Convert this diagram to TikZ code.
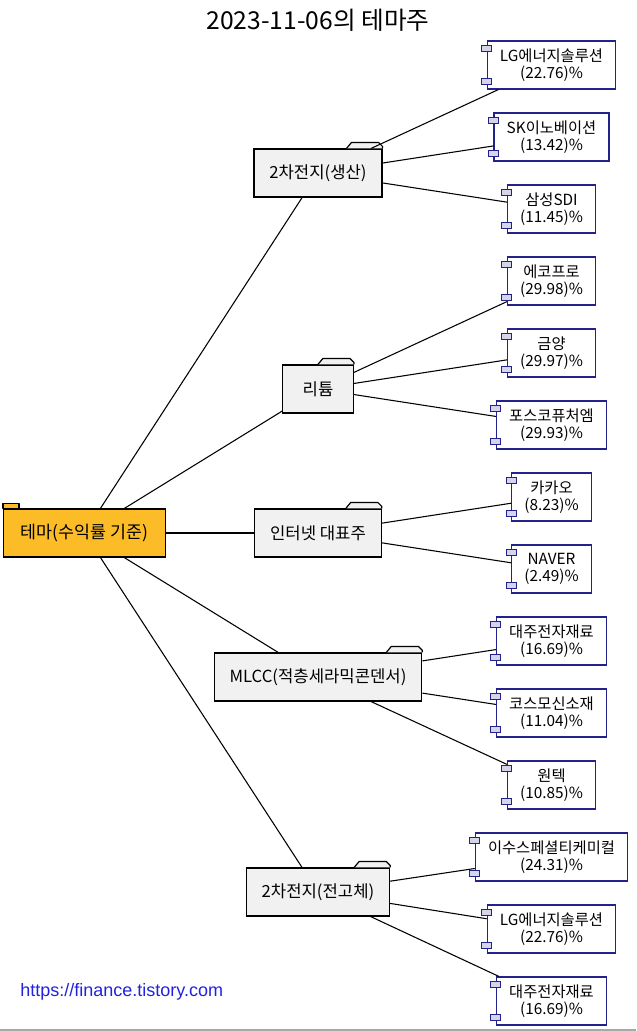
\documentclass[tikz,border=0pt]{standalone}
\usepackage{fontspec}
\setmainfont{Noto Sans CJK KR}
\newfontfamily\urlfont{Liberation Sans}
\usepackage{xcolor}
\usepackage{tikz}
\definecolor{ink}{HTML}{000000}
\definecolor{gold}{HTML}{FBBC28}
\definecolor{folder}{HTML}{F1F1F1}
\definecolor{navy}{HTML}{22228A}
\definecolor{portfill}{HTML}{D4D4EA}
\definecolor{link}{HTML}{2222DD}
\definecolor{rule}{HTML}{A8A8A8}
\tikzset{
  wire/.style={draw=ink, line width=0.8pt},
  root/.style={draw=ink, fill=gold, line width=0.9pt, minimum height=36pt, inner xsep=13pt, font=\fontsize{13}{15}\selectfont},
  grp/.style={draw=ink, fill=folder, line width=0.9pt, minimum height=36pt, minimum width=53pt, inner xsep=11.5pt, font=\fontsize{12.5}{15}\selectfont},
  tabshape/.style={draw=ink, fill=folder, line width=0.9pt, line join=round},
  stock/.style={draw=navy, fill=white, line width=0.9pt, minimum height=36pt, inner xsep=9.5pt, inner ysep=2pt, align=center, font=\fontsize{11.5}{13}\selectfont},
  port/.style={draw=navy, fill=portfill, line width=0.75pt},
  ttl/.style={font=\fontsize{18.5}{22}\selectfont},
  urltxt/.style={text=link, inner sep=0pt, font=\urlfont\fontsize{13.5}{16}\selectfont},
}

\begin{document}
\begin{tikzpicture}[x=0.75pt,y=-0.75pt]
  \useasboundingbox (0,0) rectangle (636,1031);
  \fill[rule] (0,1029) rectangle (636,1031);

  \node[ttl] (title) at (318,20) {2023-11-06의 테마주};

  % root and theme groups
  \node[root] (T) at (84.5,533) {테마(수익률 기준)};
  \node[grp] (G1) at (318,173) {2차전지(생산)};
  \node[grp] (G2) at (318,389) {리튬};
  \node[grp] (G3) at (318,533) {인터넷 대표주};
  \node[grp] (G4) at (318,677) {MLCC(적층세라믹콘덴서)};
  \node[grp] (G5) at (318,892) {2차전지(전고체)};

  % stocks
  \node[stock] (s1) at (551.5,65) {LG에너지솔루션\\(22.76)\%};
  \node[stock] (s2) at (551.5,137) {SK이노베이션\\(13.42)\%};
  \node[stock] (s3) at (551.5,209) {삼성SDI\\(11.45)\%};
  \node[stock] (s4) at (551.5,281) {에코프로\\(29.98)\%};
  \node[stock] (s5) at (551.5,353) {금양\\(29.97)\%};
  \node[stock] (s6) at (551.5,425) {포스코퓨처엠\\(29.93)\%};
  \node[stock] (s7) at (551.5,497) {카카오\\(8.23)\%};
  \node[stock] (s8) at (551.5,569) {NAVER\\(2.49)\%};
  \node[stock] (s9) at (551.5,641) {대주전자재료\\(16.69)\%};
  \node[stock] (s10) at (551.5,713) {코스모신소재\\(11.04)\%};
  \node[stock] (s11) at (551.5,785) {원텍\\(10.85)\%};
  \node[stock] (s12) at (551.5,857) {이수스페셜티케미컬\\(24.31)\%};
  \node[stock] (s13) at (551.5,929) {LG에너지솔루션\\(22.76)\%};
  \node[stock] (s14) at (551.5,1001) {대주전자재료\\(16.69)\%};

  \node[urltxt, anchor=west] (url) at (20,992) {https://finance.tistory.com};

  % tabs
  \draw[tabshape, fill=gold] (T.north west) rectangle ++(16,-5);
  \foreach \g in {G1,G2,G3,G4,G5}
    \draw[tabshape] ([xshift=-27pt]\g.north east) -- ++(5,-6) -- ++(27,0) -- ++(4,4) -- (\g.north east);

  % ports
  \foreach \i in {1,...,14} {
    \draw[port] ([xshift=-3.75pt,yshift=-3.75pt]s\i.north west) rectangle ++(10,6);
    \draw[port] ([xshift=-3.75pt,yshift=3.75pt]s\i.south west) rectangle ++(10,-6);
  }

  % connectors
  \foreach \g in {G1,G2,G3,G4,G5}
    \draw[wire] (T) -- (\g);
  \draw[wire] (G1) -- (s1);
  \draw[wire] (G1) -- (s2);
  \draw[wire] (G1) -- (s3);
  \draw[wire] (G2) -- (s4);
  \draw[wire] (G2) -- (s5);
  \draw[wire] (G2) -- (s6);
  \draw[wire] (G3) -- (s7);
  \draw[wire] (G3) -- (s8);
  \draw[wire] (G4) -- (s9);
  \draw[wire] (G4) -- (s10);
  \draw[wire] (G4) -- (s11);
  \draw[wire] (G5) -- (s12);
  \draw[wire] (G5) -- (s13);
  \draw[wire] (G5) -- (s14);
\end{tikzpicture}
\end{document}
